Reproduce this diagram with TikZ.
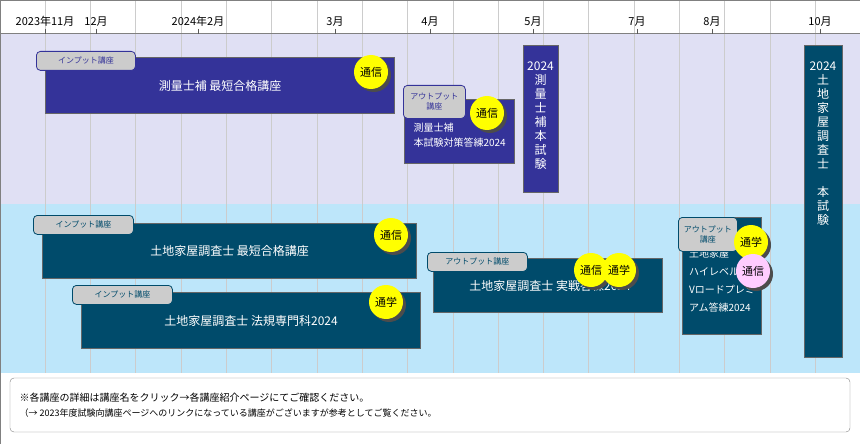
\documentclass[tikz,border=0pt]{standalone}
\usepackage{fontspec}
\setmainfont{Noto Sans CJK JP}
\usetikzlibrary{positioning}
\definecolor{navy}{HTML}{343399}
\definecolor{teal}{HTML}{004B6B}
\definecolor{lav}{HTML}{E0E0F4}
\definecolor{sky}{HTML}{BDE6FA}
\definecolor{badgeyellow}{HTML}{FFFF00}
\definecolor{badgepink}{HTML}{FFCCFF}

\begin{document}
\begin{tikzpicture}[x=1pt, y=-1pt,
        course/.style={draw=gray!80!black, line width=1.2pt, text=white, font=\fontsize{12}{14}\selectfont, align=left},
        tab/.style={draw, line width=0.8pt, fill=gray!40, rounded corners=4pt, font=\fontsize{8}{10}\selectfont, align=center},
        badge/.style={circle, fill=badgeyellow, minimum size=34pt, inner sep=0pt, font=\fontsize{11}{12}\selectfont},
        month/.style={font=\fontsize{11}{12}\selectfont, anchor=south}
    ]
        \useasboundingbox (0,0) rectangle (860,444);
        % bands
        \fill[lav] (0,34) rectangle (860,204);
        \fill[sky] (0,204) rectangle (860,373);
        \foreach \i in {0,...,17}
            \draw[gray!40] ({45+45.3*\i},0) -- ({45+45.3*\i},373);
        \draw[gray, line width=1pt] (0,34) -- (860,34);
        \draw[gray] (0,0) rectangle (860,444);
        % months
        \foreach \x/\t in {45/2023年11月, 96/12月, 198/2024年2月, 335/3月, 430/4月, 533/5月, 637/7月, 712/8月, 820/10月} {
            \node[month] (m\x) at (\x,30) {\t};
            \draw[gray!70!black] (\x,29) -- (\x,34);
        }
        % upper band
        \node[course, fill=navy, minimum width=349pt, minimum height=56pt, anchor=north west] (sk) at (45,57) {測量士補 最短合格講座};
        \node[tab, draw=navy, text=navy, minimum width=99pt, minimum height=19pt, anchor=north west] (skt) at (36,51) {インプット講座};
        \node[course, fill=navy, minimum width=110pt, minimum height=64pt, anchor=north west, font=\fontsize{10}{15}\selectfont, inner sep=6pt] (ska) at (404,99) {\\測量士補\\本試験対策答練2024};
        \node[tab, draw=navy, text=navy, minimum width=62pt, minimum height=33pt, anchor=north west] (skat) at (403,85) {アウトプット\\講座};
        \node[course, fill=navy, minimum width=35pt, minimum height=147pt, anchor=north west, align=center, font=\fontsize{12}{14}\selectfont] (skx) at (523,45) {};
        \node[text=white, font=\fontsize{12}{14}\selectfont, align=center, anchor=north] (skxt) at (540.5,58) {2024\\測\\量\\士\\補\\本\\試\\験};
        % lower band
        \node[course, fill=teal, minimum width=374pt, minimum height=55pt, anchor=north west] (tk) at (42,223) {土地家屋調査士 最短合格講座};
        \node[tab, draw=teal, text=teal, minimum width=100pt, minimum height=19pt, anchor=north west] (tkt) at (33,215) {インプット講座};
        \node[course, fill=teal, minimum width=339pt, minimum height=56pt, anchor=north west] (hk) at (81,292) {土地家屋調査士 法規専門科2024};
        \node[tab, draw=teal, text=teal, minimum width=100pt, minimum height=19pt, anchor=north west] (hkt) at (72,285) {インプット講座};
        \node[course, fill=teal, minimum width=229pt, minimum height=54pt, anchor=north west] (jt) at (433,258) {\hspace{4pt}土地家屋調査士 実戦答練2024};
        \node[tab, draw=teal, text=teal, minimum width=100pt, minimum height=19pt, anchor=north west] (jtt) at (427,252) {アウトプット講座};
        \node[course, fill=teal, minimum width=79pt, minimum height=117pt, anchor=north west, font=\fontsize{10}{18}\selectfont, inner sep=4pt] (hl) at (682,217) {\\土地家屋\\ハイレベル\\Vロードプレミ\\アム答練2024};
        \node[tab, draw=teal, text=teal, minimum width=59pt, minimum height=34pt, anchor=north west] (hlt) at (678,217) {アウトプット\\講座};
        \node[course, fill=teal, minimum width=38pt, minimum height=312pt, anchor=north west] (tkx) at (804,45) {};
        \node[text=white, font=\fontsize{12}{14}\selectfont, align=center, anchor=north] (tkxt) at (823,58) {2024\\土\\地\\家\\屋\\調\\査\\士\\\\本\\試\\験};
        % badges
        \foreach \n/\x/\y/\t/\c in {b1/371/72/通信/badgeyellow, b2/487/113/通信/badgeyellow, b3/391/235/通信/badgeyellow, b4/386/302/通学/badgeyellow, b5/591/270/通信/badgeyellow, b6/619/270/通学/badgeyellow, b7/751/242/通学/badgeyellow, b8/753/271/通信/badgepink} {
            \fill[black!70] (\x+3,\y+3) circle (17pt);
            \node[badge, fill=\c] (\n) at (\x,\y) {\t};
        }
        % footer
        \draw[gray, fill=white, rounded corners=4pt] (10,378) rectangle (850,432);
        \node[anchor=west, font=\fontsize{10}{12}\selectfont] (f1) at (16,398) {※各講座の詳細は講座名をクリック→各講座紹介ページにてご確認ください。};
        \node[anchor=west, font=\fontsize{9}{11}\selectfont] (f2) at (16,413) {（→\ 2023年度試験向講座ページへのリンクになっている講座がございますが参考としてご覧ください。};
\end{tikzpicture}
\end{document}
